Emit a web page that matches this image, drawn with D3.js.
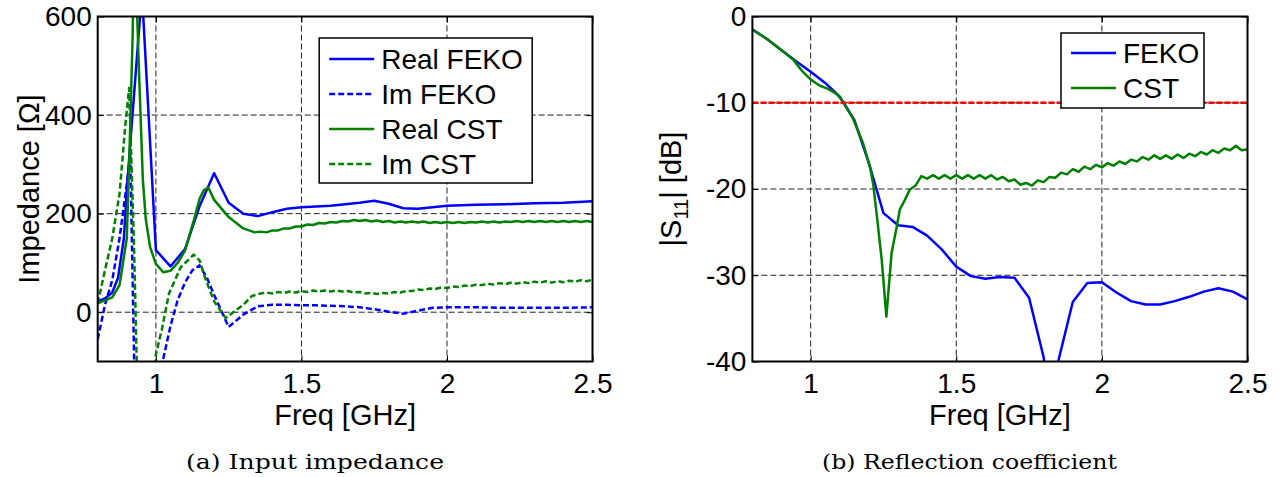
<!DOCTYPE html>
<html><head><meta charset="utf-8">
<script src="https://cdn.jsdelivr.net/npm/d3@7"></script>
<style>body{margin:0;background:#fff;} svg{display:block;}</style>
</head><body>
<svg id="chart" width="1283" height="477"></svg>
<script>
// ---------- data ----------
const freqTicks = [1, 1.5, 2, 2.5];
const impTicks = [0, 200, 400, 600];
const s11Ticks = [0, -10, -20, -30, -40];
const impDomain = [-100, 600];
const s11Domain = [-40, 0];
const freqDomain = [0.8, 2.5];
const threshold = -10;

// [freq GHz, ohm]
const realFeko = [[0.8,22],[0.825,28],[0.85,40],[0.87,70],[0.89,150],[0.9,250],[0.952,650],[1.0,126],[1.05,93],[1.1,128],[1.15,215],[1.2,282],[1.25,222],[1.3,200],[1.35,195],[1.4,203],[1.45,210],[1.5,213],[1.6,216],[1.7,222],[1.75,226],[1.8,220],[1.85,211],[1.9,210],[1.95,213],[2.0,216],[2.1,218],[2.2,219],[2.3,221],[2.4,222],[2.5,225]];
const imFeko = [[0.8,-55],[0.825,15],[0.85,65],[0.875,150],[0.9,260],[0.912,320],[0.93,-250],[0.95,-700],[1.0,-200],[1.025,-95],[1.05,-28],[1.075,25],[1.1,60],[1.125,85],[1.15,95],[1.175,70],[1.2,35],[1.25,-30],[1.3,-5],[1.35,12],[1.4,15],[1.45,15],[1.5,14],[1.55,14],[1.6,13],[1.65,12],[1.7,10],[1.75,6],[1.8,1],[1.85,-3],[1.9,3],[1.95,9],[2.0,10],[2.1,10],[2.2,9],[2.3,9],[2.4,9],[2.5,10]];
const realCst = [[0.8,18],[0.85,30],[0.875,55],[0.9,150],[0.91,340],[0.92,560],[0.926,790],[0.94,520],[0.955,270],[0.965,190],[0.98,132],[1.0,98],[1.025,81],[1.05,84],[1.075,100],[1.1,125],[1.13,186],[1.15,230],[1.165,248],[1.18,253],[1.2,228],[1.25,193],[1.3,170],[1.34,162],[1.36,163.5],
 [1.38,162],[1.40,166],[1.42,166],[1.44,170],[1.46,170],[1.48,174],[1.50,174],[1.52,178],[1.54,177],[1.56,181],[1.58,180],[1.60,183],[1.62,182],[1.64,185],[1.66,184],[1.68,187],[1.70,185],[1.72,187],[1.74,184],[1.76,186],[1.78,183],[1.80,185],[1.82,182],[1.84,184],[1.86,182],[1.88,184],[1.90,182],[1.92,184],[1.94,181],[1.96,183],[1.98,181],[2.00,183],[2.02,181],[2.04,183],[2.06,181],[2.08,183],[2.10,182],[2.12,184],[2.14,182],[2.16,184],[2.18,182],[2.20,184],[2.22,183],[2.24,185],[2.26,183],[2.28,185],[2.30,183],[2.32,185],[2.34,183],[2.36,185],[2.38,183],[2.40,185],[2.42,183],[2.44,185],[2.46,183],[2.48,185],[2.50,183]];
const imCst = [[0.8,18],[0.825,85],[0.85,150],[0.875,240],[0.895,380],[0.908,455],[0.925,130],[0.94,-250],[0.96,-500],[0.98,-300],[1.0,-85],[1.02,-36],[1.045,38],[1.085,91],[1.13,117],[1.15,105],[1.17,68],[1.2,22],[1.24,-12],[1.27,2],[1.3,15],[1.33,33],[1.36,38],
 [1.38,40],[1.40,38],[1.42,41],[1.44,39],[1.46,42],[1.48,40],[1.50,43],[1.52,41],[1.54,44],[1.56,42],[1.58,44],[1.60,42],[1.62,44],[1.64,42],[1.66,43],[1.68,40],[1.70,41],[1.72,38],[1.74,39],[1.76,37],[1.78,39],[1.80,38],[1.82,41],[1.84,40],[1.86,43],[1.88,43],[1.90,46],[1.92,45],[1.94,48],[1.96,47],[1.98,50],[2.00,49],[2.02,52],[2.04,51],[2.06,54],[2.08,53],[2.10,56],[2.12,55],[2.14,58],[2.16,56],[2.18,59],[2.20,57],[2.22,60],[2.24,58],[2.26,61],[2.28,59],[2.30,62],[2.32,60],[2.34,63],[2.36,60],[2.38,63],[2.40,61],[2.42,64],[2.44,62],[2.46,65],[2.48,63],[2.50,66]];

// [freq GHz, dB]
const s11Feko = [[0.8,-1.5],[0.85,-2.6],[0.9,-3.9],[0.95,-5.2],[1.0,-6.4],[1.05,-7.7],[1.1,-9.3],[1.15,-12.0],[1.2,-17.0],[1.25,-22.8],[1.3,-24.2],[1.35,-24.4],[1.4,-25.4],[1.45,-27.0],[1.5,-29.0],[1.55,-30.1],[1.6,-30.4],[1.65,-30.2],[1.7,-30.3],[1.75,-32.6],[1.8,-39.5],[1.825,-46],[1.85,-40],[1.9,-33.1],[1.95,-30.9],[2.0,-30.8],[2.05,-32.0],[2.1,-33.0],[2.15,-33.4],[2.2,-33.4],[2.25,-33.0],[2.3,-32.5],[2.35,-31.9],[2.4,-31.5],[2.45,-31.9],[2.5,-32.8]];
const s11Cst = [[0.8,-1.5],[0.85,-2.6],[0.9,-3.9],[0.94,-5.0],[0.97,-6.3],[1.0,-7.3],[1.03,-8.0],[1.06,-8.4],[1.09,-9.0],[1.11,-9.8],[1.145,-11.8],[1.18,-14.7],[1.205,-17.6],[1.215,-19.5],[1.227,-23],[1.244,-28.2],[1.26,-34.8],[1.278,-27.4],[1.295,-24.5],[1.306,-22.4],[1.32,-21.5],[1.34,-20.1],[1.36,-19.6],
 [1.38,-18.5],[1.40,-18.8],[1.42,-18.4],[1.44,-18.8],[1.46,-18.4],[1.48,-18.8],[1.50,-18.4],[1.52,-18.8],[1.54,-18.4],[1.56,-18.8],[1.58,-18.4],[1.60,-18.8],[1.62,-18.4],[1.64,-18.9],[1.66,-18.6],[1.68,-19.1],[1.70,-18.9],[1.72,-19.5],[1.74,-19.3],[1.76,-19.6],[1.78,-19.0],[1.80,-19.2],[1.82,-18.6],[1.84,-18.7],[1.86,-18.1],[1.88,-18.3],[1.90,-17.7],[1.92,-18.0],[1.94,-17.4],[1.96,-17.7],[1.98,-17.2],[2.00,-17.5],[2.02,-17.0],[2.04,-17.3],[2.06,-16.8],[2.08,-17.1],[2.10,-16.6],[2.12,-16.8],[2.14,-16.3],[2.16,-16.6],[2.18,-16.1],[2.20,-16.5],[2.22,-16.1],[2.24,-16.5],[2.26,-16.0],[2.28,-16.4],[2.30,-15.9],[2.32,-16.2],[2.34,-15.7],[2.36,-16.0],[2.38,-15.5],[2.40,-15.8],[2.42,-15.3],[2.44,-15.5],[2.46,-15.0],[2.48,-15.5],[2.50,-15.4]];

const leftSeries = [
  {name:"Real FEKO", data: realFeko, color:"#0000ff", dash:null},
  {name:"Im FEKO", data: imFeko, color:"#0000ff", dash:"6,3"},
  {name:"Real CST", data: realCst, color:"#008000", dash:null},
  {name:"Im CST", data: imCst, color:"#008000", dash:"6,3"}
];
const rightSeries = [
  {name:"FEKO", data: s11Feko, color:"#0000ff", dash:null},
  {name:"CST", data: s11Cst, color:"#008000", dash:null}
];

// ---------- drawing ----------
const svg = d3.select("#chart");
const FONT = "Liberation Sans, Arial, Helvetica, sans-serif";
const LW = 2.5;

function panel(opts) {
  const {left, top, width, height, yDomain, yTicks, series, id} = opts;
  const g = svg.append("g").attr("transform", `translate(${left},${top})`);
  const x = d3.scaleLinear().domain(freqDomain).range([0, width]);
  const y = d3.scaleLinear().domain(yDomain).range([height, 0]);

  svg.append("defs").append("clipPath").attr("id", "clip" + id)
    .append("rect").attr("width", width).attr("height", height);

  // grid
  const grid = g.append("g").attr("stroke", "#222").attr("stroke-width", 1).attr("stroke-dasharray", "6,3");
  freqTicks.filter(t => t < freqDomain[1]).forEach(t => {
    grid.append("line").attr("x1", x(t)).attr("x2", x(t)).attr("y1", 0).attr("y2", height);
  });
  yTicks.filter(t => t > yDomain[0] && t < yDomain[1]).forEach(t => {
    grid.append("line").attr("x1", 0).attr("x2", width).attr("y1", y(t)).attr("y2", y(t));
  });

  // axes with inward ticks
  const ax = d3.axisBottom(x).tickValues(freqTicks).tickSize(-6).tickPadding(12).tickFormat(d3.format("~g"));
  const axT = d3.axisTop(x).tickValues(freqTicks).tickSize(-6).tickFormat("");
  const ay = d3.axisLeft(y).tickValues(yTicks).tickSize(-6).tickPadding(6).tickFormat(d => d3.format("~g")(d).replace("−","-"));
  const ayR = d3.axisRight(y).tickValues(yTicks).tickSize(-6).tickFormat("");

  const gx = g.append("g").attr("transform", `translate(0,${height})`).call(ax);
  const gxt = g.append("g").call(axT);
  const gy = g.append("g").call(ay);
  const gyr = g.append("g").attr("transform", `translate(${width},0)`).call(ayR);
  [gx, gxt, gy, gyr].forEach(a => {
    a.select(".domain").remove();
    a.selectAll("line").attr("stroke", "#000").attr("stroke-width", 1);
    a.selectAll("text").attr("font-family", FONT).attr("font-size", 28).attr("fill", "#000");
  });
  gx.selectAll("text").attr("dy", "0.71em");

  // lines
  const line = d3.line().x(d => x(d[0])).y(d => y(d[1]));
  const lg = g.append("g").attr("clip-path", `url(#clip${id})`);
  series.forEach(s => {
    lg.append("path").datum(s.data).attr("d", line).attr("fill", "none")
      .attr("stroke", s.color).attr("stroke-width", LW)
      .attr("stroke-linejoin", "round")
      .attr("stroke-dasharray", s.dash);
  });

  // frame
  g.append("rect").attr("width", width).attr("height", height)
    .attr("fill", "none").attr("stroke", "#000").attr("stroke-width", 2);

  return {g, x, y, lg};
}

function legend(g, items, bx, by, bw, bh, rowY, rowGap) {
  const lg = g.append("g");
  lg.append("rect").attr("x", bx).attr("y", by).attr("width", bw).attr("height", bh)
    .attr("fill", "#fff").attr("stroke", "#000").attr("stroke-width", 1.5);
  items.forEach((s, i) => {
    const yy = by + rowY + i * rowGap;
    lg.append("line").attr("x1", bx + 10).attr("x2", bx + 55).attr("y1", yy).attr("y2", yy)
      .attr("stroke", s.color).attr("stroke-width", LW).attr("stroke-dasharray", s.dash);
    lg.append("text").attr("x", bx + 62).attr("y", yy).attr("dy", "0.36em")
      .attr("font-family", FONT).attr("font-size", 28).text(s.name);
  });
}

// Left panel: impedance
const L = {left: 97.7, top: 16.5, width: 494.8, height: 345};
const pL = panel({...L, yDomain: impDomain, yTicks: impTicks, series: leftSeries, id: "L"});
legend(pL.g, leftSeries, 221.5, 21.5, 213, 145, 21, 35);

// Right panel: S11
const R = {left: 752.4, top: 16.5, width: 495.1, height: 345};
const pR = panel({...R, yDomain: s11Domain, yTicks: s11Ticks, series: rightSeries, id: "R"});
pR.lg.append("line").attr("x1", 0).attr("x2", R.width)
  .attr("y1", pR.y(threshold)).attr("y2", pR.y(threshold))
  .attr("stroke", "#ff0000").attr("stroke-width", LW).attr("stroke-dasharray", "6,2");
legend(pR.g, rightSeries, 308.6, 16.5, 143, 75, 20, 35);

// axis labels
function xLabel(P, text) {
  svg.append("text").attr("x", P.left + P.width / 2).attr("y", 425)
    .attr("text-anchor", "middle").attr("font-family", FONT).attr("font-size", 29).text(text);
}
xLabel(L, "Freq [GHz]");
xLabel(R, "Freq [GHz]");

svg.append("text").attr("transform", `translate(39,${L.top + L.height / 2}) rotate(-90)`)
  .attr("text-anchor", "middle").attr("font-family", FONT).attr("font-size", 29).text("Impedance [Ω]");

const yl = svg.append("text").attr("transform", `translate(681,${R.top + R.height / 2}) rotate(-90)`)
  .attr("text-anchor", "middle").attr("font-family", FONT).attr("font-size", 29);
yl.append("tspan").text("|S");
yl.append("tspan").attr("font-size", 20).attr("dy", 7).text("11");
yl.append("tspan").attr("dy", -7).text("| [dB]");

// captions
const SERIF = "DejaVu Serif, Liberation Serif, serif";
svg.append("text").attr("x", 186).attr("y", 469)
  .attr("font-family", SERIF).attr("font-size", 20)
  .attr("textLength", 258).attr("lengthAdjust", "spacingAndGlyphs").text("(a) Input impedance");
svg.append("text").attr("x", 822).attr("y", 469)
  .attr("font-family", SERIF).attr("font-size", 20)
  .attr("textLength", 295).attr("lengthAdjust", "spacingAndGlyphs").text("(b) Reflection coefficient");
</script>
</body></html>
